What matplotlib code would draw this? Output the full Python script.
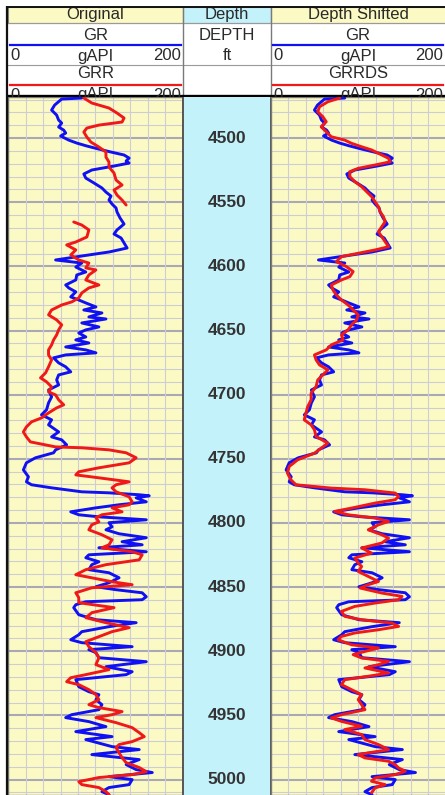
import numpy as np
import matplotlib
matplotlib.use("Agg")
import matplotlib.pyplot as plt
from matplotlib.patches import Rectangle

plt.rcParams['font.family'] = ['Liberation Sans', 'DejaVu Sans']

# GR log, read in both tracks (depth ft, gAPI)
gr_depth = [
    4468.8, 4469.6, 4474.3, 4478.2, 4482.1, 4486.0, 4488.3, 4491.4, 4493.8, 4496.1,
    4498.4, 4501.6, 4503.9, 4506.2, 4508.6, 4510.9, 4513.2, 4515.6, 4517.9, 4519.5,
    4521.8, 4524.9, 4528.0, 4531.2, 4535.0, 4538.9, 4542.1, 4545.2, 4548.3, 4551.4,
    4554.5, 4557.6, 4562.3, 4567.0, 4571.6, 4574.8, 4577.9, 4581.8, 4585.7, 4588.8,
    4591.1, 4593.5, 4595.0, 4597.4, 4600.5, 4604.4, 4606.7, 4610.6, 4614.5, 4616.8,
    4619.9, 4623.8, 4626.2, 4628.5, 4631.6, 4634.0, 4636.3, 4639.4, 4641.0, 4644.1,
    4647.2, 4649.5, 4651.9, 4655.0, 4657.3, 4659.7, 4662.8, 4665.1, 4667.4, 4669.0,
    4671.3, 4675.2, 4678.3, 4682.2, 4684.6, 4688.5, 4692.4, 4696.3, 4701.7, 4706.4,
    4711.8, 4715.7, 4719.6, 4723.5, 4729.0, 4732.9, 4735.2, 4739.1, 4743.0, 4745.3,
    4749.2, 4753.1, 4758.6, 4764.0, 4767.9, 4770.2, 4772.6, 4775.7, 4776.5, 4778.0,
    4778.8, 4780.4, 4783.5, 4785.8, 4788.2, 4791.3, 4793.6, 4795.2, 4797.5, 4799.8,
    4803.0, 4805.3, 4808.4, 4811.5, 4814.6, 4817.0, 4819.3, 4822.4, 4824.8, 4827.1,
    4830.2, 4832.5, 4836.4, 4838.8, 4842.7, 4846.6, 4849.7, 4852.0, 4854.4, 4857.5,
    4859.8, 4861.4, 4863.7, 4866.0, 4871.5, 4875.4, 4877.7, 4880.8, 4884.7, 4887.1,
    4891.0, 4893.3, 4896.4, 4898.7, 4901.1, 4905.0, 4908.1, 4912.0, 4915.9, 4918.2,
    4922.1, 4927.6, 4931.5, 4933.8, 4937.7, 4941.6, 4945.5, 4949.4, 4951.7, 4954.8,
    4958.7, 4962.6, 4966.5, 4968.8, 4974.3, 4976.6, 4980.5, 4984.4, 4988.3, 4992.2,
    4994.5, 4997.7, 5000.0, 5003.9, 5006.2, 5009.4, 5011.7,
]
gr_api = [
    84.4, 61.3, 53.2, 49.7, 55.5, 57.8, 61.3, 57.8, 63.6, 65.9,
    60.1, 69.4, 78.6, 90.2, 104.0, 117.9, 132.9, 138.7, 135.3, 138.7,
    121.4, 95.9, 86.7, 89.0, 98.3, 107.5, 112.1, 117.9, 115.6, 119.1,
    123.7, 124.8, 128.3, 132.9, 124.8, 121.4, 129.5, 132.9, 136.4, 115.6,
    92.5, 69.4, 54.3, 84.4, 77.5, 89.0, 78.6, 77.5, 65.9, 69.4,
    77.5, 71.7, 80.9, 89.0, 100.6, 86.7, 107.5, 92.5, 112.1, 84.4,
    104.0, 89.0, 80.9, 89.0, 77.5, 92.5, 65.9, 89.0, 100.6, 65.9,
    52.0, 57.8, 65.9, 71.7, 57.8, 55.5, 57.8, 46.2, 49.7, 46.2,
    43.9, 38.1, 49.7, 46.2, 57.8, 49.7, 61.3, 67.0, 54.3, 52.0,
    31.2, 20.8, 17.3, 23.1, 20.8, 26.6, 49.7, 84.4, 115.6, 150.3,
    161.8, 146.8, 158.4, 127.2, 100.6, 71.7, 80.9, 104.0, 158.4, 115.6,
    119.1, 112.1, 127.2, 158.4, 130.6, 153.7, 104.0, 158.4, 92.5, 89.0,
    104.0, 95.9, 92.5, 115.6, 127.2, 115.6, 100.6, 123.7, 153.7, 158.4,
    153.7, 89.0, 77.5, 75.1, 80.9, 100.6, 146.8, 115.6, 84.4, 80.9,
    71.7, 84.4, 142.2, 92.5, 100.6, 104.0, 158.4, 112.1, 142.2, 135.3,
    77.5, 80.9, 92.5, 104.0, 100.6, 107.5, 104.0, 72.8, 65.9, 92.5,
    112.1, 77.5, 119.1, 89.0, 119.1, 150.3, 95.9, 150.3, 135.3, 146.8,
    165.3, 115.6, 142.2, 138.7, 115.6, 107.5, 115.6,
]

# GRR before shifting (gap around 4558 ft)
grr_depth = [
    4468.8, 4472.7, 4476.6, 4480.5, 4484.4, 4487.5, 4489.9, 4492.2, 4495.3, 4499.2,
    4503.1, 4507.0, 4510.9, 4514.8, 4518.7, 4522.6, 4527.3, 4532.7, 4536.6, 4540.5,
    4544.4, 4548.3, 4552.2, 4558.0, 4565.4, 4567.8, 4571.6, 4577.1, 4581.0, 4583.3,
    4587.2, 4591.1, 4595.0, 4597.4, 4601.2, 4602.8, 4606.7, 4610.6, 4614.5, 4616.8,
    4620.7, 4624.6, 4627.7, 4630.1, 4634.0, 4637.8, 4641.7, 4645.6, 4649.5, 4653.4,
    4657.3, 4661.2, 4665.1, 4669.0, 4672.9, 4678.3, 4683.0, 4686.9, 4690.0, 4693.9,
    4697.8, 4700.2, 4704.0, 4707.9, 4710.3, 4714.2, 4718.1, 4721.2, 4725.1, 4729.0,
    4732.9, 4736.8, 4740.7, 4741.4, 4743.0, 4745.3, 4749.2, 4753.1, 4757.0, 4760.1,
    4762.5, 4764.8, 4767.9, 4770.2, 4772.6, 4775.7, 4779.6, 4783.5, 4785.8, 4788.2,
    4791.3, 4793.6, 4795.9, 4799.1, 4801.4, 4805.3, 4809.2, 4813.1, 4817.0, 4819.3,
    4822.4, 4824.8, 4828.7, 4832.5, 4836.4, 4840.3, 4842.7, 4845.8, 4848.1, 4850.5,
    4854.4, 4858.2, 4862.1, 4866.0, 4869.9, 4873.8, 4877.7, 4881.6, 4884.7, 4888.6,
    4892.5, 4896.4, 4901.1, 4905.0, 4910.4, 4914.3, 4918.2, 4920.6, 4923.7, 4926.0,
    4929.9, 4933.8, 4937.7, 4941.6, 4943.9, 4947.0, 4949.4, 4951.7, 4955.6, 4959.5,
    4963.4, 4966.5, 4970.4, 4972.7, 4975.1, 4979.0, 4982.9, 4986.8, 4990.6, 4993.8,
    4996.1, 4998.4, 5001.6, 5003.9, 5006.2, 5009.4, 5011.7,
]
grr_api = [
    86.7, 95.9, 115.6, 124.8, 132.9, 130.6, 104.0, 90.2, 86.7, 90.2,
    94.8, 104.0, 112.1, 112.1, 115.6, 115.6, 121.4, 123.7, 130.6, 121.4,
    124.8, 130.6, 135.3, np.nan, 75.1, 84.4, 92.5, 90.2, 77.5, 67.0,
    77.5, 71.7, 80.9, 92.5, 89.0, 100.6, 92.5, 89.0, 104.0, 92.5,
    84.4, 80.9, 72.8, 61.3, 49.7, 46.2, 55.5, 61.3, 57.8, 55.5,
    52.0, 49.7, 46.2, 46.2, 49.7, 46.2, 42.8, 37.0, 43.9, 49.7,
    46.2, 54.3, 57.8, 63.6, 55.5, 46.2, 38.1, 26.6, 20.8, 17.3,
    20.8, 25.4, 54.3, 84.4, 115.6, 135.3, 146.8, 138.7, 104.0, 80.9,
    77.5, 104.0, 138.7, 123.7, 119.1, 123.7, 138.7, 142.2, 138.7, 119.1,
    130.6, 107.5, 100.6, 104.0, 95.9, 92.5, 107.5, 119.1, 115.6, 107.5,
    142.2, 153.7, 150.3, 112.1, 89.0, 77.5, 95.9, 119.1, 142.2, 95.9,
    77.5, 80.9, 80.9, 121.4, 95.9, 89.0, 112.1, 138.7, 119.1, 104.0,
    89.0, 92.5, 100.6, 104.0, 100.6, 115.6, 89.0, 71.7, 67.0, 80.9,
    92.5, 100.6, 104.0, 92.5, 104.0, 130.6, 119.1, 100.6, 123.7, 142.2,
    150.3, 156.1, 142.2, 127.2, 123.7, 127.2, 130.6, 135.3, 150.3, 158.4,
    142.2, 104.0, 80.9, 84.4, 104.0, 112.1, 115.6,
]

# GRRDS, the depth-shifted GRR
grrds_depth = [
    4468.8, 4471.7, 4475.6, 4479.5, 4483.4, 4487.3, 4491.2, 4495.1, 4499.0, 4501.6,
    4504.1, 4506.8, 4509.3, 4513.2, 4515.8, 4518.5, 4521.0, 4523.6, 4526.2, 4530.1,
    4534.0, 4537.9, 4541.8, 4545.7, 4549.6, 4553.5, 4557.4, 4561.3, 4565.2, 4569.1,
    4573.0, 4576.9, 4580.8, 4584.7, 4587.2, 4589.8, 4592.4, 4596.3, 4600.2, 4604.1,
    4608.0, 4610.6, 4614.5, 4618.4, 4622.3, 4626.2, 4630.1, 4634.0, 4637.8, 4641.7,
    4645.6, 4649.5, 4653.4, 4657.3, 4661.2, 4665.1, 4669.0, 4672.9, 4676.8, 4680.7,
    4684.6, 4688.5, 4693.7, 4698.8, 4704.0, 4709.3, 4714.4, 4719.6, 4723.5, 4727.4,
    4732.6, 4737.8, 4741.7, 4745.6, 4750.8, 4756.0, 4761.1, 4766.3, 4770.2, 4772.8,
    4774.1, 4776.7, 4779.4, 4781.9, 4784.5, 4788.4, 4791.0, 4793.6, 4796.2, 4798.8,
    4801.4, 4805.3, 4809.2, 4811.8, 4815.6, 4819.5, 4823.4, 4827.3, 4831.2, 4833.9,
    4837.8, 4841.7, 4845.6, 4848.1, 4850.7, 4854.6, 4857.2, 4859.8, 4862.4, 4865.0,
    4868.9, 4872.8, 4875.4, 4878.0, 4880.6, 4883.2, 4885.7, 4888.4, 4891.0, 4894.9,
    4897.4, 4900.1, 4902.6, 4905.2, 4907.9, 4910.4, 4913.0, 4916.9, 4919.5, 4922.1,
    4926.0, 4929.9, 4933.8, 4937.7, 4941.6, 4945.5, 4949.4, 4951.9, 4954.6, 4958.5,
    4961.0, 4964.9, 4968.8, 4972.7, 4976.6, 4980.5, 4983.1, 4985.7, 4988.3, 4990.9,
    4993.5, 4996.1, 4998.7, 5001.3, 5003.9, 5006.5, 5010.3,
]
grrds_api = [
    78.6, 65.1, 55.5, 53.5, 59.3, 63.2, 57.4, 63.2, 69.0, 84.4,
    92.1, 103.7, 115.2, 126.8, 134.5, 136.4, 119.1, 99.8, 90.2, 90.2,
    96.0, 103.7, 109.5, 115.2, 119.1, 122.9, 124.8, 128.7, 130.6, 126.8,
    122.9, 126.8, 130.6, 134.5, 119.1, 99.8, 80.6, 74.8, 86.3, 94.0,
    90.2, 80.6, 69.0, 70.9, 74.8, 80.6, 88.2, 94.0, 99.8, 98.0,
    92.1, 88.2, 80.6, 82.5, 69.0, 63.2, 49.7, 51.6, 55.5, 65.1,
    59.3, 53.5, 51.6, 45.9, 45.9, 42.0, 40.0, 38.0, 45.9, 49.7,
    51.6, 65.1, 57.4, 49.7, 30.4, 20.8, 18.8, 22.7, 28.5, 69.0,
    107.5, 142.2, 146.0, 142.0, 119.0, 92.1, 72.8, 88.2, 119.1, 134.5,
    123.0, 111.3, 126.8, 134.5, 126.8, 103.7, 115.0, 96.0, 99.8, 103.7,
    99.8, 111.3, 123.0, 111.3, 102.0, 126.8, 149.9, 146.0, 119.0, 96.0,
    80.6, 84.4, 103.7, 138.3, 146.0, 123.0, 96.0, 80.6, 76.7, 92.1,
    123.0, 107.5, 94.0, 103.7, 134.5, 123.0, 107.5, 134.5, 111.0, 84.4,
    80.6, 92.1, 103.7, 99.8, 103.7, 107.5, 80.6, 69.0, 80.6, 103.7,
    84.4, 103.7, 107.5, 123.0, 134.5, 99.8, 107.5, 134.5, 142.0, 146.0,
    153.7, 142.0, 119.0, 115.0, 130.6, 119.0, 115.0,
]

depth_labels = [4500, 4550, 4600, 4650, 4700, 4750, 4800, 4850, 4900, 4950, 5000]

DEPTH_TOP, DEPTH_BASE = 4468.0, 5012.0
GR_MIN, GR_MAX = 0, 200

BLUE = '#1010f4'
RED = '#f01818'
TRACK_BG = '#fcfac4'
DEPTH_BG = '#c4f2fa'
GRID_MINOR = '#cdcdd6'
GRID_MAJOR = '#a8a8b6'
TXT = '#2a2a2a'

W, H = 445, 795
TOP = 97  # top of the log tracks, px from the top
fig = plt.figure(figsize=(W / 100, H / 100), dpi=100)


def px_axes(x0, y0, x1, y1, **kw):
    # axes placed by pixel box, y measured from the top
    return fig.add_axes([x0 / W, 1 - y1 / H, (x1 - x0) / W, (y1 - y0) / H], **kw)


def style_track(ax):
    ax.set_xlim(GR_MIN, GR_MAX)
    ax.set_ylim(DEPTH_BASE, DEPTH_TOP)
    ax.set_facecolor(TRACK_BG)
    for d in range(4470, 5012, 10):
        major = d % 50 == 0
        ax.axhline(d, color=GRID_MAJOR if major else GRID_MINOR,
                   lw=1.5 if major else 0.8, zorder=1)
    for v in range(20, 200, 20):
        ax.axvline(v, color=GRID_MINOR, lw=0.8, zorder=1)
    ax.set_xticks([])
    ax.set_yticks([])
    for s in ax.spines.values():
        s.set_color('#7a7a7a')
        s.set_linewidth(1.0)


ax_left = px_axes(8.3, TOP, 182.5, H)
ax_depth = px_axes(182.5, TOP, 271, H)
ax_right = px_axes(271, TOP, 445.8, H)

style_track(ax_left)
style_track(ax_right)

line_kw = dict(lw=2.1, solid_joinstyle='round', solid_capstyle='round', zorder=3)
ax_left.plot(gr_api, gr_depth, color=BLUE, **line_kw)
ax_left.plot(grr_api, grr_depth, color=RED, **line_kw)
ax_right.plot(gr_api, gr_depth, color=BLUE, **line_kw)
ax_right.plot(grrds_api, grrds_depth, color=RED, **line_kw)

# depth track
ax_depth.set_ylim(DEPTH_BASE, DEPTH_TOP)
ax_depth.set_xlim(0, 1)
ax_depth.set_facecolor(DEPTH_BG)
ax_depth.set_xticks([])
ax_depth.set_yticks([])
for side, s in ax_depth.spines.items():
    s.set_color('#555555')
    s.set_linewidth(1.4 if side in ('left', 'right') else 0)
for d in depth_labels:
    ax_depth.text(0.5, d, str(d), transform=ax_depth.get_yaxis_transform(),
                  ha='center', va='center', fontsize=12.5, fontweight='bold',
                  color='#333333')

# header block
hd = px_axes(0, 0, W, TOP)
hd.set_xlim(0, W)
hd.set_ylim(TOP, 0)
hd.axis('off')

cells = [(8.3, 182.5, TRACK_BG), (182.5, 271, DEPTH_BG), (271, 446, TRACK_BG)]
for x0, x1, c in cells:
    hd.add_patch(Rectangle((x0, 7), x1 - x0, 16, facecolor=c, edgecolor='#8a8a8a', lw=0.8))

for y in (23, 65):
    hd.plot([8.3, W], [y, y], color='#9a9a9a', lw=0.8)
for x in (182.5, 271):
    hd.plot([x, x], [7, TOP], color='#7a7a7a', lw=1.0)

txt_kw = dict(fontsize=12, color=TXT, va='center', clip_on=True)
hd.text(95.5, 15, 'Original', ha='center', **txt_kw)
hd.text(227, 15, 'Depth', ha='center', **txt_kw)
hd.text(358, 15, 'Depth Shifted', ha='center', **txt_kw)
hd.text(227, 36, 'DEPTH', ha='center', **txt_kw)
hd.text(227, 56, 'ft', ha='center', **txt_kw)

for x0, x1, top_name, bot_name in [(8.3, 182.5, 'GR', 'GRR'), (271, 445, 'GR', 'GRRDS')]:
    xc = (x0 + x1) / 2
    hd.text(xc, 36, top_name, ha='center', **txt_kw)
    hd.plot([x0 + 2, x1 - 2], [44.5, 44.5], color=BLUE, lw=1.6)
    hd.text(xc, 74, bot_name, ha='center', **txt_kw)
    hd.plot([x0 + 2, x1 - 2], [85, 85], color=RED, lw=1.6)
    for y in (56, 95):
        hd.text(x0 + 2, y, str(GR_MIN), ha='left', **txt_kw)
        hd.text(xc, y, 'gAPI', ha='center', **txt_kw)
        hd.text(x1 - 2, y, str(GR_MAX), ha='right', **txt_kw)

hd.plot([7, W], [95.8, 95.8], color='black', lw=2.4, solid_capstyle='butt')

# outer frame, top and left edges
frame = px_axes(0, 0, W, H)
frame.set_xlim(0, W)
frame.set_ylim(H, 0)
frame.axis('off')
frame.plot([7, 7], [6, H], color='#111111', lw=1.6, solid_capstyle='butt')
frame.plot([7, W], [6.5, 6.5], color='#111111', lw=1.4, solid_capstyle='butt')

fig.savefig('out.png', dpi=100)
